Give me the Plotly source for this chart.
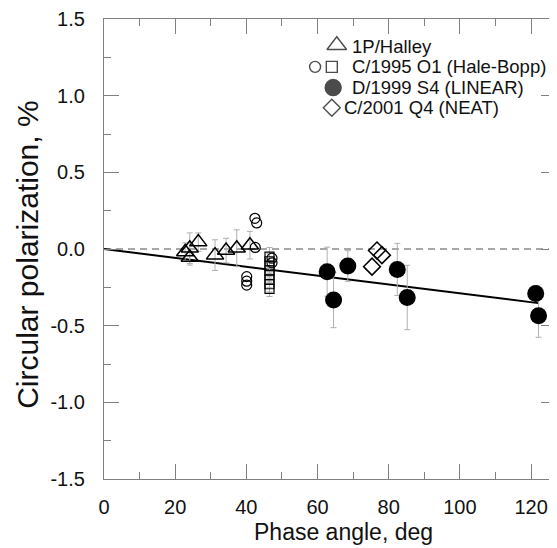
import plotly.graph_objects as go

# ---- data ----
halley_x = [22.8, 24.1, 26.5, 24.1, 31.2, 34.3, 37.3, 41.0]
halley_y = [-0.02, 0.005, 0.045, -0.055, -0.04, -0.01, 0.005, 0.025]
halley_e = [0.06, 0.10, 0.06, 0.05, 0.10, 0.08, 0.12, 0.09]

hb_circ_x = [42.4, 42.9, 40.1, 40.1, 40.1, 42.5, 47.2, 47.2]
hb_circ_y = [0.20, 0.17, -0.18, -0.21, -0.235, 0.01, -0.06, -0.09]

hb_sq_x = [46.5, 46.5, 46.5, 46.5, 46.5, 46.5, 46.5, 46.5]
hb_sq_y = [-0.05, -0.08, -0.11, -0.14, -0.17, -0.20, -0.23, -0.26]
hb_sq_e = [0.06, 0.05, 0.05, 0.05, 0.05, 0.05, 0.05, 0.05]

lin_x = [62.7, 64.5, 68.5, 82.4, 85.2, 121.3, 122.1]
lin_y = [-0.148, -0.333, -0.111, -0.133, -0.316, -0.29, -0.436]
lin_e = [0.16, 0.18, 0.10, 0.17, 0.21, 0.05, 0.14]

neat_x = [76.7, 78.1, 75.3]
neat_y = [-0.01, -0.04, -0.115]

fit_x = [0, 122]
fit_y = [0.0, -0.353]

zero_x = [0, 127]
zero_y = [0, 0]

legend_labels = ["1P/Halley", "C/1995 O1 (Hale-Bopp)", "D/1999 S4 (LINEAR)", "C/2001 Q4 (NEAT)"]
x_title = "Phase angle, deg"
y_title = "Circular polarization, %"

FONT = "Liberation Sans, Arial, sans-serif"
ERR = "#b0b0b0"
AX = "#808080"

fig = go.Figure()

fig.add_trace(go.Scatter(x=zero_x, y=zero_y, mode="lines",
                         line=dict(color="#8a8a8a", width=1.6, dash="7px,5px"), hoverinfo="skip"))
fig.add_trace(go.Scatter(x=fit_x, y=fit_y, mode="lines",
                         line=dict(color="black", width=2), hoverinfo="skip"))

fig.add_trace(go.Scatter(x=halley_x, y=halley_y, mode="markers",
                         error_y=dict(type="data", array=halley_e, color=ERR, thickness=1, width=3),
                         marker=dict(symbol="triangle-up-open", size=15, color="black",
                                     line=dict(width=1.5, color="black"))))
fig.add_trace(go.Scatter(x=hb_sq_x, y=hb_sq_y, mode="markers",
                         error_y=dict(type="data", array=hb_sq_e, color=ERR, thickness=1, width=3),
                         marker=dict(symbol="square-open", size=9, color="black",
                                     line=dict(width=1.2, color="black"))))
fig.add_trace(go.Scatter(x=hb_circ_x, y=hb_circ_y, mode="markers",
                         marker=dict(symbol="circle-open", size=10, color="black",
                                     line=dict(width=1.2, color="black"))))
fig.add_trace(go.Scatter(x=neat_x, y=neat_y, mode="markers",
                         marker=dict(symbol="diamond-open", size=13, color="black",
                                     line=dict(width=1.5, color="black"))))
fig.add_trace(go.Scatter(x=lin_x, y=lin_y, mode="markers",
                         error_y=dict(type="data", array=lin_e, color=ERR, thickness=1, width=3),
                         marker=dict(symbol="circle", size=17, color="black")))

# ---- custom legend (overlay axes in 0..1 units of the plot area) ----
leg_mx = [0.515, 0.467, 0.504, 0.507, 0.504]
leg_my = [0.943, 0.896, 0.896, 0.851, 0.807]
leg_sym = ["triangle-up-open", "circle-open", "square-open", "circle", "diamond-open"]
leg_size = [17, 11, 11, 16, 13]
fig.add_trace(go.Scatter(x=leg_mx, y=leg_my, xaxis="x2", yaxis="y2", mode="markers",
                         marker=dict(symbol=leg_sym, size=leg_size, color="black",
                                     line=dict(width=1.4, color="black")), hoverinfo="skip"))
leg_tx = [0.549, 0.549, 0.549, 0.531]
leg_ty = [0.940, 0.896, 0.851, 0.807]
for tx, ty, lab in zip(leg_tx, leg_ty, legend_labels):
    fig.add_annotation(x=tx, y=ty, xref="x2", yref="y2", text=lab, showarrow=False,
                       xanchor="left", yanchor="middle", xshift=-2,
                       font=dict(family=FONT, size=18.5, color="#111"))

# axis titles as annotations (positioned like the reference)
fig.add_annotation(x=0.53, y=-0.1153, xref="paper", yref="paper", text=x_title,
                   showarrow=False, xanchor="center", yanchor="middle",
                   font=dict(family=FONT, size=23, color="#111"))
fig.add_annotation(x=-0.168, y=0.4875, xref="paper", yref="paper", text=y_title,
                   showarrow=False, xanchor="center", yanchor="middle", textangle=-90,
                   font=dict(family=FONT, size=30, color="#111"))

axis_common = dict(showline=True, linecolor=AX, linewidth=1.3, mirror="ticks",
                   ticks="inside", tickcolor=AX, tickwidth=1.3, ticklen=15,
                   showgrid=False, zeroline=False, automargin=False,
                   tickfont=dict(family=FONT, size=20, color="#111"))

# the page body adds an 8px offset, so the figure is sized to land the plot
# area where the reference has it
fig.update_layout(
    width=549, height=540,
    margin=dict(l=96, r=1, t=11, b=69),
    paper_bgcolor="white", plot_bgcolor="white",
    showlegend=False,
    xaxis=dict(range=[0, 127], tickmode="array", tickvals=[0, 20, 40, 60, 80, 100, 120],
               minor=dict(ticks="inside", ticklen=7, tickcolor=AX, tickwidth=1.3, dtick=10, tick0=0),
               ticklabelstandoff=10, **axis_common),
    yaxis=dict(range=[-1.5, 1.5], tickmode="array", tickvals=[-1.5, -1.0, -0.5, 0.0, 0.5, 1.0, 1.5],
               ticktext=["-1.5", "-1.0", "-0.5", "0.0", "0.5", "1.0", "1.5"],
               minor=dict(ticks="inside", ticklen=7, tickcolor=AX, tickwidth=1.3, dtick=0.25, tick0=0),
               ticklabelstandoff=14, **axis_common),
    xaxis2=dict(range=[0, 1], overlaying="x", visible=False, fixedrange=True),
    yaxis2=dict(range=[0, 1], overlaying="y", visible=False, fixedrange=True),
)

fig.write_html("out.html")
